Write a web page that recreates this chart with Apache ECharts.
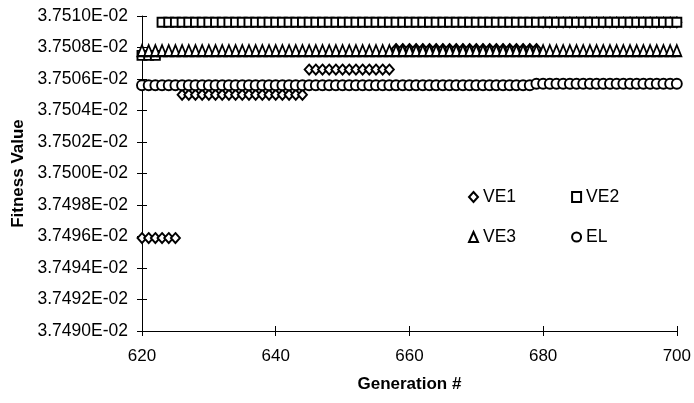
<!DOCTYPE html>
<html><head><meta charset="utf-8">
<script src="https://cdn.jsdelivr.net/npm/echarts@6/dist/echarts.min.js"></script>
<style>html,body{margin:0;padding:0;background:#fff}#c{width:694px;height:403px}</style>
</head><body><div id="c"></div>
<script>
// Values in units of 1E-02 (axis labels show mantissa + "E-02")
const generations = [
620,621,622,623,624,625,626,627,628,629,
630,631,632,633,634,635,636,637,638,639,
640,641,642,643,644,645,646,647,648,649,
650,651,652,653,654,655,656,657,658,659,
660,661,662,663,664,665,666,667,668,669,
670,671,672,673,674,675,676,677,678,679,
680,681,682,683,684,685,686,687,688,689,
690,691,692,693,694,695,696,697,698,699,
700];
const ve1 = [
3.74959,3.74959,3.74959,3.74959,3.74959,3.74959,3.75050,3.75050,3.75050,3.75050,
3.75050,3.75050,3.75050,3.75050,3.75050,3.75050,3.75050,3.75050,3.75050,3.75050,
3.75050,3.75050,3.75050,3.75050,3.75050,3.75066,3.75066,3.75066,3.75066,3.75066,
3.75066,3.75066,3.75066,3.75066,3.75066,3.75066,3.75066,3.75066,3.75079,3.75079,
3.75079,3.75079,3.75079,3.75079,3.75079,3.75079,3.75079,3.75079,3.75079,3.75079,
3.75079,3.75079,3.75079,3.75079,3.75079,3.75079,3.75079,3.75079,3.75079,3.75079,
3.75096,3.75096,3.75096,3.75096,3.75096,3.75096,3.75096,3.75096,3.75096,3.75096,
3.75096,3.75096,3.75096,3.75096,3.75096,3.75096,3.75096,3.75096,3.75096,3.75096,
3.75096];
const ve2 = [
3.75075,3.75075,3.75075,3.75096,3.75096,3.75096,3.75096,3.75096,3.75096,3.75096,
3.75096,3.75096,3.75096,3.75096,3.75096,3.75096,3.75096,3.75096,3.75096,3.75096,
3.75096,3.75096,3.75096,3.75096,3.75096,3.75096,3.75096,3.75096,3.75096,3.75096,
3.75096,3.75096,3.75096,3.75096,3.75096,3.75096,3.75096,3.75096,3.75096,3.75096,
3.75096,3.75096,3.75096,3.75096,3.75096,3.75096,3.75096,3.75096,3.75096,3.75096,
3.75096,3.75096,3.75096,3.75096,3.75096,3.75096,3.75096,3.75096,3.75096,3.75096,
3.75096,3.75096,3.75096,3.75096,3.75096,3.75096,3.75096,3.75096,3.75096,3.75096,
3.75096,3.75096,3.75096,3.75096,3.75096,3.75096,3.75096,3.75096,3.75096,3.75096,
3.75096];
const ve3 = [
3.75078,3.75078,3.75078,3.75078,3.75078,3.75078,3.75078,3.75078,3.75078,3.75078,
3.75078,3.75078,3.75078,3.75078,3.75078,3.75078,3.75078,3.75078,3.75078,3.75078,
3.75078,3.75078,3.75078,3.75078,3.75078,3.75078,3.75078,3.75078,3.75078,3.75078,
3.75078,3.75078,3.75078,3.75078,3.75078,3.75078,3.75078,3.75078,3.75078,3.75078,
3.75078,3.75078,3.75078,3.75078,3.75078,3.75078,3.75078,3.75078,3.75078,3.75078,
3.75078,3.75078,3.75078,3.75078,3.75078,3.75078,3.75078,3.75078,3.75078,3.75078,
3.75078,3.75078,3.75078,3.75078,3.75078,3.75078,3.75078,3.75078,3.75078,3.75078,
3.75078,3.75078,3.75078,3.75078,3.75078,3.75078,3.75078,3.75078,3.75078,3.75078,
3.75078];
const el = [
3.75056,3.75056,3.75056,3.75056,3.75056,3.75056,3.75056,3.75056,3.75056,3.75056,
3.75056,3.75056,3.75056,3.75056,3.75056,3.75056,3.75056,3.75056,3.75056,3.75056,
3.75056,3.75056,3.75056,3.75056,3.75056,3.75056,3.75056,3.75056,3.75056,3.75056,
3.75056,3.75056,3.75056,3.75056,3.75056,3.75056,3.75056,3.75056,3.75056,3.75056,
3.75056,3.75056,3.75056,3.75056,3.75056,3.75056,3.75056,3.75056,3.75056,3.75056,
3.75056,3.75056,3.75056,3.75056,3.75056,3.75056,3.75056,3.75056,3.75056,3.75057,
3.75057,3.75057,3.75057,3.75057,3.75057,3.75057,3.75057,3.75057,3.75057,3.75057,
3.75057,3.75057,3.75057,3.75057,3.75057,3.75057,3.75057,3.75057,3.75057,3.75057,
3.75057];
const seriesNames = ['VE1','VE2','VE3','EL'];
const seriesSymbols = ['diamond','rect','triangle','circle'];
const seriesValues = [ve1, ve2, ve3, el];
const xTicks = {min:620, max:700, interval:20};
const yTicks = {min:3.7490, max:3.7510, interval:0.0002};

const FONT = 'Liberation Sans';
const chart = echarts.init(document.getElementById('c'), null, {renderer:'canvas'});
const axisLineStyle = {show:true, lineStyle:{color:'#000', width:1}};
const sizes = {diamond:[9,10], rect:9, triangle:[9,11], circle:10};
const series = seriesNames.map((n,i)=>({
  name:n, type:'scatter', xAxisIndex:0, yAxisIndex:0,
  symbol: seriesSymbols[i], symbolSize: sizes[seriesSymbols[i]],
  itemStyle:{color:'#fff', borderColor:'#000', borderWidth:1.9, opacity:1},
  emphasis:{disabled:true}, animation:false,
  data: generations.map((g,k)=>[g, seriesValues[i][k]])
}));
const legendBase = {
  orient:'horizontal', left:468, padding:0, itemWidth:9, itemHeight:10, itemGap:55,
  textStyle:{fontFamily:FONT, fontSize:17.5, color:'#000'}, selectedMode:false
};
chart.setOption({
  backgroundColor:'#fff',
  animation:false,
  grid:{left:142, right:17, top:16, bottom:72, containLabel:false},
  xAxis:[
    {type:'value', min:xTicks.min, max:xTicks.max, interval:xTicks.interval, position:'bottom',
     axisLine:axisLineStyle, axisTick:{show:true, length:5, lineStyle:{color:'#000'}},
     axisLabel:{fontFamily:FONT, fontSize:17, color:'#000', margin:17},
     splitLine:{show:false},
     name:'Generation #', nameLocation:'middle', nameGap:45,
     nameTextStyle:{fontFamily:FONT, fontSize:17, fontWeight:'bold', color:'#000'}},
    {type:'value', min:xTicks.min, max:xTicks.max, interval:xTicks.interval, position:'bottom',
     axisLine:{show:false}, axisTick:{show:true, inside:true, length:5, lineStyle:{color:'#000'}},
     axisLabel:{show:false}, splitLine:{show:false}}
  ],
  yAxis:[
    {type:'value', min:yTicks.min, max:yTicks.max, interval:yTicks.interval, position:'left',
     axisLine:axisLineStyle, axisTick:{show:true, length:5, lineStyle:{color:'#000'}},
     axisLabel:{fontFamily:FONT, fontSize:17.5, color:'#000', margin:14,
       formatter:v=>v.toFixed(4)+'E-02'},
     splitLine:{show:false},
     name:'Fitness Value', nameLocation:'middle', nameGap:115,
     nameTextStyle:{fontFamily:FONT, fontSize:17, fontWeight:'bold', color:'#000'}},
    {type:'value', min:yTicks.min, max:yTicks.max, interval:yTicks.interval, position:'left',
     axisLine:{show:false}, axisTick:{show:true, inside:true, length:5, lineStyle:{color:'#000'}},
     axisLabel:{show:false}, splitLine:{show:false}}
  ],
  legend:[
    Object.assign({}, legendBase, {top:188, data:['VE1','VE2']}),
    Object.assign({}, legendBase, {top:228, data:['VE3','EL']})
  ],
  series: series
});
</script>
</body></html>
